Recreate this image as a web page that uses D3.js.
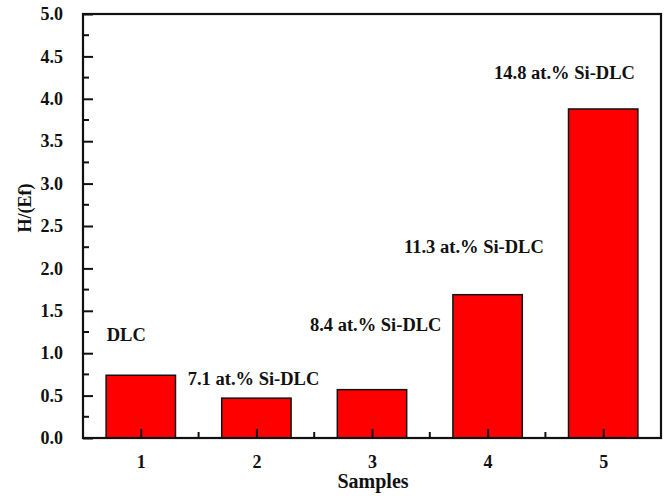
<!DOCTYPE html>
<html>
<head>
<meta charset="utf-8">
<script src="https://cdn.jsdelivr.net/npm/d3@7"></script>
<style>
  html, body { margin: 0; padding: 0; background: #ffffff; }
  svg { display: block; }
</style>
</head>
<body>
<svg id="chart" width="669" height="496"></svg>
<script>
// Sample numbers and measured H/(Ef) ratios
const samples = [1, 2, 3, 4, 5];
const ratios = [0.74, 0.47, 0.57, 1.69, 3.88];
const sampleNames = ["DLC", "7.1 at.% Si-DLC", "8.4 at.% Si-DLC", "11.3 at.% Si-DLC", "14.8 at.% Si-DLC"];
// Where each sample name sits, in axis units (start x, baseline y)
const nameX = [0.705, 1.406, 2.463, 3.277, 4.056];
const nameY = [1.14, 0.625, 1.26, 2.18, 4.23];
const yTickLabels = ["0.0", "0.5", "1.0", "1.5", "2.0", "2.5", "3.0", "3.5", "4.0", "4.5", "5.0"];

const FONT = "Liberation Serif";
const INK = "#111";

const svg = d3.select("#chart");
const margin = { left: 83, right: 8, top: 14, bottom: 58 };
const W = 669, H = 496;
const x = d3.scaleLinear().domain([0.5, 5.5]).range([margin.left, W - margin.right]);
const y = d3.scaleLinear().domain([0, 5]).range([H - margin.bottom, margin.top]);
const barW = x(0.6) - x(0);

function styleText(sel, size) {
  sel.attr("font-family", FONT).attr("font-weight", "bold")
     .attr("font-size", size).attr("fill", INK);
}

// Bars
svg.append("g").selectAll("rect").data(samples).join("rect")
  .attr("x", d => x(d) - barW / 2)
  .attr("y", (d, i) => y(ratios[i]))
  .attr("width", barW)
  .attr("height", (d, i) => y(0) - y(ratios[i]))
  .attr("fill", "#ff0000")
  .attr("stroke", INK)
  .attr("stroke-width", 1.5);

// Y axis: major ticks every 0.5 pointing inward, minor ticks between
const yAxis = d3.axisLeft(y)
  .tickValues(yTickLabels.map(Number))
  .tickFormat((d, i) => yTickLabels[i])
  .tickSize(-10).tickPadding(20);
const gy = svg.append("g").attr("transform", `translate(${margin.left},0)`).call(yAxis);
gy.attr("font-family", FONT);
gy.select(".domain").remove();
gy.selectAll("line").attr("stroke", INK).attr("stroke-width", 2);
styleText(gy.selectAll("text"), 18);

const yMinor = d3.range(0.25, 5, 0.5);
svg.append("g").selectAll("line").data(yMinor).join("line")
  .attr("x1", x(0.5)).attr("x2", x(0.5) + 6)
  .attr("y1", d => y(d)).attr("y2", d => y(d))
  .attr("stroke", INK).attr("stroke-width", 2);

// X axis
const xAxis = d3.axisBottom(x).tickValues(samples).tickFormat(d3.format("d"))
  .tickSize(-9).tickPadding(17);
const gx = svg.append("g").attr("transform", `translate(0,${y(0)})`).call(xAxis);
gx.attr("font-family", FONT);
gx.select(".domain").remove();
gx.selectAll("line").attr("stroke", INK).attr("stroke-width", 2);
styleText(gx.selectAll("text"), 18);

const xMinor = [1.5, 2.5, 3.5, 4.5];
svg.append("g").selectAll("line").data(xMinor).join("line")
  .attr("x1", d => x(d)).attr("x2", d => x(d))
  .attr("y1", y(0)).attr("y2", y(0) - 6)
  .attr("stroke", INK).attr("stroke-width", 2);

// Frame
svg.append("rect")
  .attr("x", x(0.5)).attr("y", y(5))
  .attr("width", x(5.5) - x(0.5)).attr("height", y(0) - y(5))
  .attr("fill", "none").attr("stroke", INK).attr("stroke-width", 2.2);

// Sample names
styleText(svg.append("g").selectAll("text").data(sampleNames).join("text")
  .attr("x", (d, i) => x(nameX[i]))
  .attr("y", (d, i) => y(nameY[i]))
  .text(d => d), 18.5);

// Axis titles
styleText(svg.append("text")
  .attr("x", (x(0.5) + x(5.5)) / 2 + 1).attr("y", 488)
  .attr("text-anchor", "middle")
  .text("Samples"), 20);

styleText(svg.append("text")
  .attr("transform", `translate(31,208) rotate(-90)`)
  .attr("text-anchor", "middle")
  .text("H/(Ef)"), 18);
</script>
</body>
</html>
